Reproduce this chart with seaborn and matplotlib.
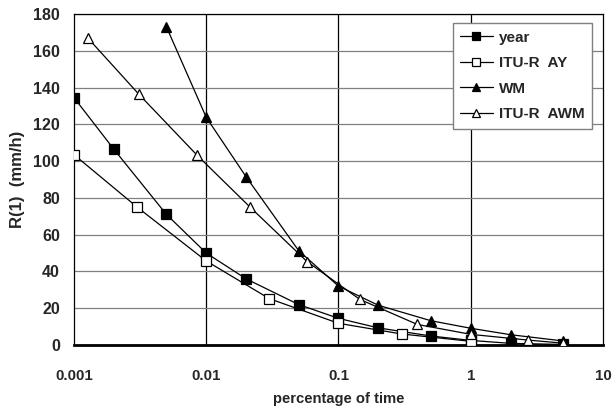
import numpy as np
import pandas as pd
import matplotlib
matplotlib.use("Agg")
import matplotlib.pyplot as plt
import seaborn as sns
from matplotlib.ticker import FixedLocator, NullFormatter, LogLocator

# values
year_p = [0.001, 0.002, 0.005, 0.01, 0.02, 0.05, 0.1, 0.2, 0.5, 1, 2, 5]
year_r = [134.5, 106.5, 71, 50, 36, 22, 14.5, 9.3, 4.9, 2.5, 0.9, 0.3]

ay_p = [0.001, 0.003, 0.01, 0.03, 0.1, 0.3, 1]
ay_r = [103.5, 75, 45.7, 25.2, 11.8, 6.0, 2.0]

wm_p = [0.005, 0.01, 0.02, 0.05, 0.1, 0.2, 0.5, 1, 2, 5]
wm_r = [173, 123.8, 91.5, 51.3, 32, 21.6, 13.2, 9.1, 5.6, 2.2]

awm_p = [0.00127, 0.0031, 0.0085, 0.0213, 0.058, 0.145, 0.394, 1, 2.69, 5]
awm_r = [167, 136.3, 103.3, 75.2, 45.3, 24.8, 11.2, 5.8, 2.7, 1.0]

series = [
    ("year", year_p, year_r, "s", "black"),
    ("ITU-R  AY", ay_p, ay_r, "s", "white"),
    ("WM", wm_p, wm_r, "^", "black"),
    ("ITU-R  AWM", awm_p, awm_r, "^", "white"),
]

sns.set_style("white")
plt.rcParams["font.family"] = ["Liberation Sans", "DejaVu Sans"]
plt.rcParams["font.weight"] = "bold"

fig = plt.figure(figsize=(6.13, 4.12), dpi=100)
ax = fig.add_axes([0.1207, 0.1626, 0.9837 - 0.1207, 0.966 - 0.1626])

for name, p, r, mk, face in series:
    df = pd.DataFrame({"p": p, "r": r})
    sns.lineplot(data=df, x="p", y="r", ax=ax, color="black", linewidth=0.9,
                 marker=mk, markersize=7 if mk == "s" else 7.5,
                 markerfacecolor=face, markeredgecolor="black",
                 markeredgewidth=0.9, label=name, zorder=3)

ax.set_xscale("log")
ax.set_xlim(0.001, 10)
ax.set_ylim(0, 180)

ax.set_xticks([0.001, 0.01, 0.1, 1, 10])
ax.set_xticklabels(["0.001", "0.01", "0.1", "1", "10"])
ax.xaxis.set_minor_locator(LogLocator(base=10, subs=np.arange(2, 10)))
ax.xaxis.set_minor_formatter(NullFormatter())
ax.set_yticks(np.arange(0, 181, 20))
ax.yaxis.set_minor_locator(FixedLocator(np.arange(0, 181, 5)))

ax.tick_params(axis="both", which="major", direction="out", length=4,
               width=0.9, color="black")
ax.tick_params(axis="x", which="major", pad=13, labelsize=10.8)
ax.tick_params(axis="y", which="major", pad=6, labelsize=11.5)
ax.tick_params(axis="both", which="minor", direction="in", length=3,
               width=0.8, color="black")
for lab in ax.get_xticklabels() + ax.get_yticklabels():
    lab.set_fontweight("bold")

ax.grid(False)
for v in [0.01, 0.1, 1]:
    ax.axvline(v, color="black", linewidth=0.9, zorder=1)
for h in range(20, 181, 20):
    ax.axhline(h, color="#808080", linewidth=0.9, zorder=1)

for s in ["left", "top", "right"]:
    ax.spines[s].set_color("black")
    ax.spines[s].set_linewidth(0.9)
ax.spines["bottom"].set_color("black")
ax.spines["bottom"].set_linewidth(2)

ax.set_xlabel("percentage of time", fontsize=10.6, fontweight="bold", labelpad=7)
ax.set_ylabel("R(1)  (mm/h)", fontsize=12, fontweight="bold", labelpad=6)

leg = ax.legend(loc="upper right", bbox_to_anchor=(0.979, 0.973),
                borderaxespad=0, fontsize=11, markerscale=0.75,
                frameon=True, fancybox=False, edgecolor="#808080",
                framealpha=1, handlelength=2.1, borderpad=0.5,
                labelspacing=0.75, handletextpad=0.4)
leg.get_frame().set_linewidth(1)
for t in leg.get_texts():
    t.set_fontweight("bold")

fig.savefig("out.png", dpi=100)
